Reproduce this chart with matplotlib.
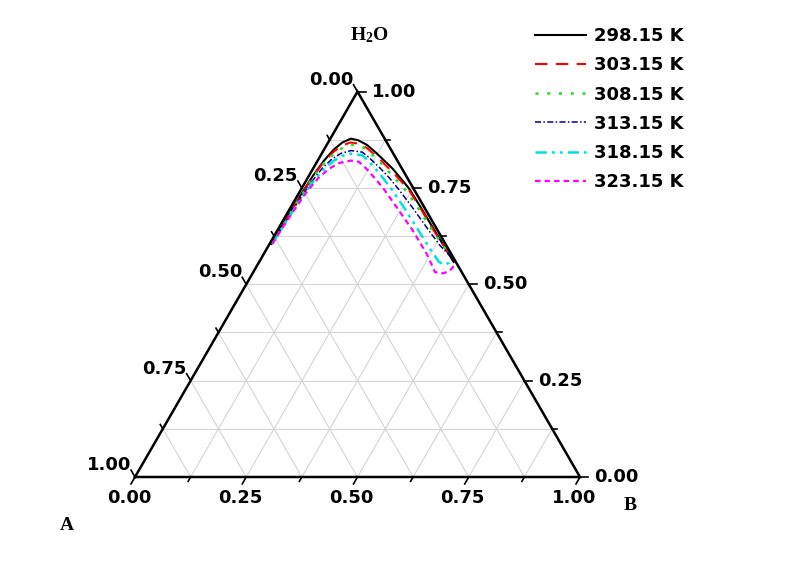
import numpy as np
import matplotlib
matplotlib.use("Agg")
import matplotlib.pyplot as plt

plt.rcParams['mathtext.fontset'] = 'custom'
plt.rcParams['mathtext.rm'] = 'Liberation Serif:bold'
plt.rcParams['mathtext.it'] = 'Liberation Serif:bold'
plt.rcParams['mathtext.bf'] = 'Liberation Serif:bold'

# binodal data, mass fractions of B and H2O
temps = ["298.15 K", "303.15 K", "308.15 K", "313.15 K", "318.15 K", "323.15 K"]

b_298 = [0.004, 0.005, 0.006, 0.009, 0.014, 0.022, 0.032, 0.046,
         0.064, 0.090, 0.123, 0.179, 0.240, 0.292, 0.353, 0.437]
w_298 = [0.605, 0.660, 0.720, 0.780, 0.820, 0.850, 0.868, 0.878,
         0.874, 0.862, 0.840, 0.800, 0.750, 0.700, 0.640, 0.558]

b_303 = [0.004, 0.005, 0.007, 0.010, 0.016, 0.025, 0.035, 0.050,
         0.076, 0.100, 0.144, 0.198, 0.243, 0.290, 0.351, 0.413]
w_303 = [0.605, 0.660, 0.720, 0.780, 0.820, 0.845, 0.860, 0.868,
         0.864, 0.850, 0.820, 0.780, 0.745, 0.700, 0.640, 0.582]

b_308 = [0.005, 0.006, 0.008, 0.012, 0.018, 0.028, 0.040, 0.056,
         0.080, 0.103, 0.145, 0.190, 0.235, 0.285, 0.348, 0.404]
w_308 = [0.605, 0.660, 0.720, 0.780, 0.815, 0.840, 0.855, 0.862,
         0.858, 0.845, 0.815, 0.780, 0.745, 0.700, 0.640, 0.590]

b_313 = [0.006, 0.007, 0.010, 0.013, 0.020, 0.030, 0.043, 0.062,
         0.089, 0.110, 0.152, 0.185, 0.221, 0.273, 0.340, 0.386, 0.419]
w_313 = [0.605, 0.660, 0.720, 0.760, 0.800, 0.825, 0.840, 0.847,
         0.843, 0.830, 0.800, 0.775, 0.745, 0.700, 0.640, 0.600, 0.575]

b_318 = [0.006, 0.008, 0.012, 0.016, 0.024, 0.036, 0.048, 0.064,
         0.093, 0.115, 0.153, 0.205, 0.254, 0.317, 0.369, 0.404, 0.421, 0.428, 0.426]
w_318 = [0.605, 0.660, 0.720, 0.760, 0.795, 0.820, 0.833, 0.839,
         0.835, 0.820, 0.790, 0.745, 0.700, 0.640, 0.590, 0.558, 0.551, 0.556, 0.568]

b_323 = [0.006, 0.009, 0.012, 0.016, 0.024, 0.036, 0.052, 0.075,
         0.094, 0.120, 0.158, 0.188, 0.238, 0.304, 0.365, 0.394, 0.408, 0.424, 0.438, 0.442, 0.442]
w_323 = [0.605, 0.660, 0.700, 0.740, 0.775, 0.800, 0.815, 0.821,
         0.818, 0.800, 0.770, 0.745, 0.700, 0.640, 0.580, 0.548, 0.532, 0.528, 0.532, 0.542, 0.552]

B_data = [b_298, b_303, b_308, b_313, b_318, b_323]
W_data = [w_298, w_303, w_308, w_313, w_318, w_323]

tick_vals = [0.0, 0.25, 0.5, 0.75, 1.0]
tick_labels = ["0.00", "0.25", "0.50", "0.75", "1.00"]

colors = ["black", "#ff0000", "#22dd22", "#000090", "#00e0e0", "#ff00ff"]
styles = ["-", (0, (6, 4)), (0, (1.2, 3.5)), (0, (4, 1.5, 1, 1.5)),
          (0, (4.5, 2, 1.2, 2, 1.2, 2)), (0, (2.5, 1.8))]
widths = [1.5, 1.5, 1.8, 1.1, 1.8, 1.6]

S3 = np.sqrt(3) / 2


def to_xy(b, w):
    b = np.asarray(b)
    w = np.asarray(w)
    return b + w / 2, w * S3


fig = plt.figure(figsize=(8, 5.65), dpi=100)
ax = fig.add_axes([0, 0, 1, 1])
ax.set_xlim(-135 / 445, 665 / 445)
ax.set_ylim(-88 / 445, 477 / 445)
ax.axis("off")

# grid
gc = "#d4d4d4"
for v in np.arange(0.125, 1.0, 0.125):
    # constant H2O
    x, y = to_xy([0, 1 - v], [v, v])
    ax.plot(x, y, color=gc, lw=0.8, zorder=1)
    # constant B
    x, y = to_xy([v, v], [0, 1 - v])
    ax.plot(x, y, color=gc, lw=0.8, zorder=1)
    # constant A
    x, y = to_xy([0, 1 - v], [1 - v, 0])
    ax.plot(x, y, color=gc, lw=0.8, zorder=1)

# frame
x, y = to_xy([0, 1, 0, 0], [0, 0, 1, 0])
ax.plot(x, y, color="black", lw=1.8, zorder=5, solid_joinstyle="miter")

# ticks
px = 1 / 445
tfont = dict(fontsize=13, fontweight="bold", family="DejaVu Sans")
for v in np.arange(0, 1.001, 0.125):
    major = abs(v * 4 - round(v * 4)) < 1e-6
    L = (8 if major else 5) * px
    # bottom axis (B)
    x0, y0 = to_xy(v, 0)
    ax.plot([x0, x0 - 0.5 * L], [y0, y0 - S3 * L], color="black", lw=1.2, zorder=5)
    # right axis (H2O)
    x0, y0 = to_xy(1 - v, v)
    ax.plot([x0, x0 + L], [y0, y0], color="black", lw=1.2, zorder=5)
    # left axis (A)
    x0, y0 = to_xy(0, 1 - v)
    ax.plot([x0, x0 - 0.5 * L], [y0, y0 + S3 * L], color="black", lw=1.2, zorder=5)

for v, lab in zip(tick_vals, tick_labels):
    x0, y0 = to_xy(v, 0)
    ax.text(x0 - 6 * px, y0 - 12 * px, lab, ha="center", va="top", **tfont)
    x0, y0 = to_xy(1 - v, v)
    ax.text(x0 + 14 * px, y0, lab, ha="left", va="center", **tfont)
    x0, y0 = to_xy(0, 1 - v)
    ax.text(x0 - 4 * px, y0 + 12 * px, lab, ha="right", va="center", **tfont)

# curves
for b, w, c, ls, lw, lab in zip(B_data, W_data, colors, styles, widths, temps):
    x, y = to_xy(b, w)
    ax.plot(x, y, color=c, ls=ls, lw=lw, label=lab, zorder=3)

# corner labels
ax.text(0.526, 0.993, r"$\mathrm{H_2O}$", ha="center", va="center", fontsize=14)
ax.text(1.112, -0.063, "B", ha="center", va="center", fontsize=14,
        fontweight="bold", family="Liberation Serif")
ax.text(-0.153, -0.108, "A", ha="center", va="center", fontsize=14,
        fontweight="bold", family="Liberation Serif")

leg = ax.legend(loc="upper left", bbox_to_anchor=(0.669, 0.952),
                bbox_transform=fig.transFigure, frameon=False,
                prop=dict(size=13, weight="bold", family="DejaVu Sans"),
                handlelength=2.8, handletextpad=0.45, labelspacing=0.62,
                borderpad=0, borderaxespad=0)

fig.savefig("out.png", dpi=100)
